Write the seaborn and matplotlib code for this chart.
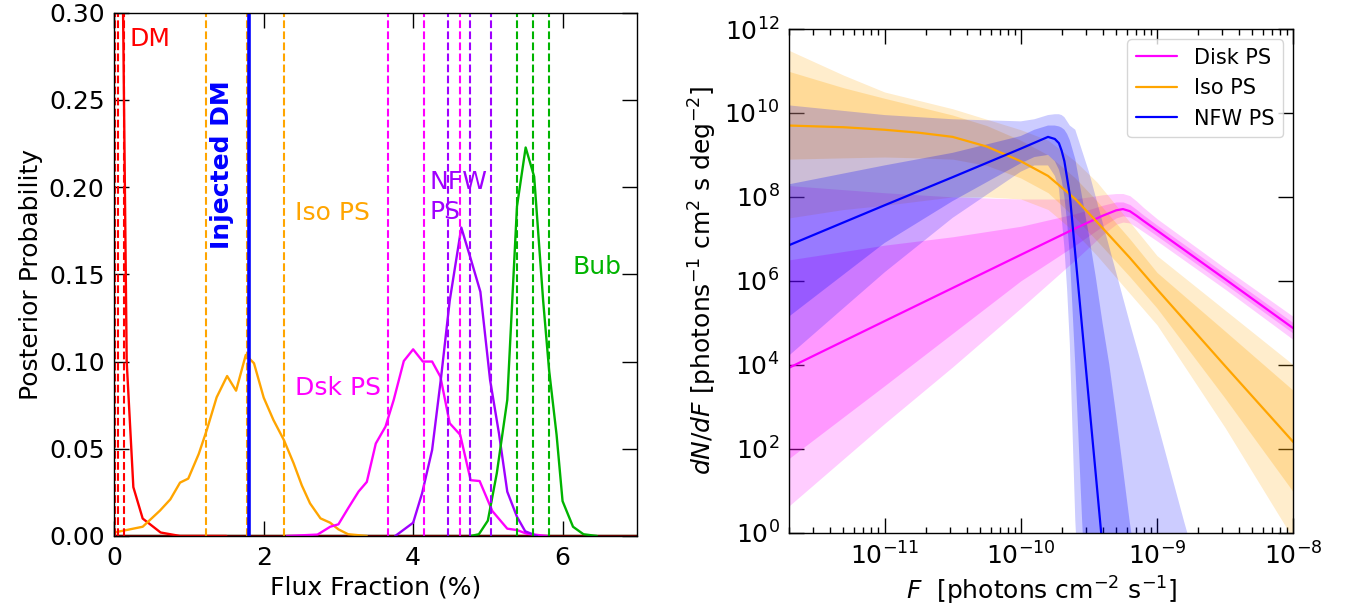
import numpy as np
import pandas as pd
import seaborn as sns
import matplotlib
matplotlib.use("Agg")
import matplotlib.pyplot as plt
from matplotlib.ticker import FixedLocator, NullLocator, LogLocator, FormatStrFormatter

sns.set_style("ticks")
plt.rcParams['font.family'] = ['DejaVu Sans']
plt.rcParams['mathtext.fontset'] = 'dejavusans'
for k in ['text.color', 'axes.labelcolor', 'xtick.color', 'ytick.color', 'axes.edgecolor']:
    plt.rcParams[k] = 'black'

# ---------------- Left panel data: posteriors of flux fraction (%) ----------------
dm_x = [0.04, 0.166, 0.255, 0.38, 0.62, 0.88, 1.5]
dm_y = [0.62, 0.100, 0.028, 0.010, 0.002, 0.0, 0.0]

iso_x = [0.0, 0.38, 0.61, 0.75, 0.88, 0.99, 1.13, 1.24, 1.37, 1.51, 1.63, 1.76, 1.87,
         2.0, 2.13, 2.27, 2.4, 2.51, 2.62, 2.76, 2.89, 3.0, 3.13, 3.38]
iso_y = [0.002, 0.0053, 0.0145, 0.021, 0.0306, 0.0329, 0.047, 0.061, 0.0795, 0.0917,
         0.0833, 0.1038, 0.099, 0.0793, 0.0665, 0.055, 0.0417, 0.029, 0.0187, 0.0101,
         0.0076, 0.0038, 0.001, 0.0]

dsk_x = [2.31, 2.72, 2.89, 3.0, 3.13, 3.27, 3.38, 3.5, 3.63, 3.74, 3.875, 4.0, 4.13,
         4.254, 4.365, 4.49, 4.63, 4.77, 4.89, 5.06, 5.26, 5.39, 5.52, 5.79]
dsk_y = [0.0, 0.0008, 0.0053, 0.0067, 0.0159, 0.0255, 0.031, 0.053, 0.0627, 0.078,
         0.1003, 0.107, 0.100, 0.100, 0.0913, 0.0646, 0.058, 0.032, 0.0315, 0.0143,
         0.0042, 0.0034, 0.0013, 0.0]

nfw_x = [3.76, 4.0, 4.12, 4.254, 4.375, 4.49, 4.645, 4.77, 4.9, 5.03, 5.15, 5.26,
         5.39, 5.5, 5.66]
nfw_y = [0.0, 0.0076, 0.0245, 0.0493, 0.0913, 0.135, 0.1768, 0.159, 0.14, 0.0894,
         0.0585, 0.0254, 0.011, 0.0027, 0.0]

bub_x = [4.77, 4.88, 5.0, 5.12, 5.26, 5.39, 5.506, 5.62, 5.74, 5.82, 5.92, 6.0, 6.14,
         6.28, 6.46]
bub_y = [0.0, 0.001, 0.0088, 0.036, 0.078, 0.189, 0.2227, 0.206, 0.135, 0.095, 0.058,
         0.020, 0.0053, 0.001, 0.0]

flat_x = [0.0, 7.0]
flat_y = [0.0, 0.0]

dm_q = [0.01, 0.05, 0.13]
iso_q = [1.23, 1.77, 2.27]
dsk_q = [3.67, 4.14, 4.63]
nfw_q = [4.47, 4.755, 5.045]
bub_q = [5.39, 5.60, 5.82]
injected_dm = 1.806

# ---------------- Right panel data: source-count functions (log10 values) ----------------
disk_logF = [-11.7, -11.0, -10.5, -10.0, -9.6, -9.4, -9.3, -9.25, -9.2, -9.15, -9.1, -9.0,
             -8.5, -8.0]
disk_med = [3.93, 5.04, 5.83, 6.62, 7.25, 7.55, 7.68, 7.71, 7.66, 7.55, 7.43, 7.2, 6.04, 4.87]
disk_lo95 = [0.64, 2.6, 3.95, 5.35, 6.5, 7.1, 7.35, 7.4, 7.38, 7.28, 7.17, 6.95, 5.8, 4.6]
disk_hi95 = [8.27, 8.1, 8.0, 7.95, 7.95, 8.05, 8.08, 8.08, 8.03, 7.9, 7.75, 7.48, 6.3, 5.15]
disk_lo68 = [1.77, 3.5, 4.75, 6.0, 6.85, 7.3, 7.5, 7.55, 7.52, 7.42, 7.3, 7.07, 5.92, 4.75]
disk_hi68 = [6.5, 6.85, 7.05, 7.3, 7.6, 7.8, 7.88, 7.88, 7.82, 7.7, 7.57, 7.33, 6.17, 5.0]

iso_logF = [-11.7, -11.3, -11.0, -10.75, -10.5, -10.25, -10.0, -9.8, -9.6, -9.44, -9.2,
            -9.0, -8.5, -8.0]
iso_med = [9.70, 9.66, 9.60, 9.53, 9.43, 9.2, 8.85, 8.5, 7.95, 7.4, 6.55, 5.8, 3.97, 2.16]
iso_hi95 = [11.49, 10.9, 10.5, 10.3, 10.1, 9.85, 9.6, 9.35, 8.85, 8.35, 7.4, 6.6, 5.3, 4.0]
iso_hi68 = [10.99, 10.6, 10.35, 10.15, 9.95, 9.7, 9.35, 9.0, 8.45, 7.9, 7.0, 6.2, 4.8, 3.39]
iso_lo68 = [8.9, 8.93, 8.95, 8.93, 8.9, 8.75, 8.45, 8.1, 7.5, 6.95, 6.1, 5.35, 3.2, 0.97]
iso_lo95 = [7.5, 7.7, 7.8, 7.9, 8.0, 8.0, 7.95, 7.7, 7.15, 6.6, 5.7, 4.95, 2.5, -0.15]

nfw_logF = [-11.7, -11.0, -10.5, -10.0, -9.9, -9.8, -9.75, -9.72, -9.7, -9.68, -9.66,
            -9.64, -9.6, -9.55, -9.5, -9.45, -9.4, -9.35, -9.3, -9.2, -9.1, -9.0, -8.9,
            -8.8, -8.7]
nfw_med = [6.85, 7.80, 8.47, 9.15, 9.29, 9.43, 9.38, 9.28, 9.1, 8.85, 8.45, 8.04, 6.64,
           4.89, 3.14, 1.4, -0.35, -2.1, -3.9, -7.0, -9.0, -9.0, -9.0, -9.0, -9.0]
nfw_lo68 = [5.15, 6.9, 7.9, 8.8, 8.95, 9.0, 8.85, 8.65, 8.4, 8.0, 7.4, 6.6, 4.0, 0.3,
            -3.0, -6.0, -9.0, -9.0, -9.0, -9.0, -9.0, -9.0, -9.0, -9.0, -9.0]
nfw_hi68 = [8.3, 8.75, 9.05, 9.45, 9.6, 9.7, 9.7, 9.68, 9.65, 9.6, 9.5, 9.35, 8.9, 8.0,
            7.1, 6.1, 5.0, 4.0, 2.8, 0.25, -2.0, -4.0, -6.0, -8.0, -9.0]
nfw_lo95 = [4.22, 6.2, 7.5, 8.6, 8.75, 8.75, 8.5, 8.2, 7.5, 6.8, 5.8, 4.5, 0.3, -3.0,
            -6.0, -9.0, -9.0, -9.0, -9.0, -9.0, -9.0, -9.0, -9.0, -9.0, -9.0]
nfw_hi95 = [10.18, 9.95, 9.85, 9.8, 9.85, 9.95, 9.97, 9.97, 9.95, 9.9, 9.8, 9.7, 9.6,
            9.1, 8.6, 8.0, 7.4, 6.8, 6.2, 5.0, 3.85, 2.65, 1.45, 0.25, -0.9]

components = [
    ("Disk PS", "magenta", disk_logF, disk_med, disk_lo95, disk_hi95, disk_lo68, disk_hi68),
    ("Iso PS", "orange", iso_logF, iso_med, iso_lo95, iso_hi95, iso_lo68, iso_hi68),
    ("NFW PS", "blue", nfw_logF, nfw_med, nfw_lo95, nfw_hi95, nfw_lo68, nfw_hi68),
]

FS = 18
col_red = "#ff0000"
col_orange = "#ffa500"
col_mag = "#ff00ff"
col_purple = "#a000ff"
col_green = "#00b400"

fig = plt.figure(figsize=(13.51, 6.12), dpi=100)
axL = fig.add_axes([0.0846, 0.1242, 0.3871, 0.8551])
axR = fig.add_axes([0.5842, 0.1296, 0.3731, 0.8230])

# ---------------- Left panel ----------------
sns.lineplot(x=flat_x, y=flat_y, ax=axL, color="#006400", lw=1.7, estimator=None, sort=False)
sns.lineplot(x=flat_x, y=flat_y, ax=axL, color="#800000", lw=1.7, estimator=None, sort=False)
for xs, ys, c in [(dm_x, dm_y, col_red), (iso_x, iso_y, col_orange), (dsk_x, dsk_y, col_mag),
                  (nfw_x, nfw_y, col_purple), (bub_x, bub_y, col_green)]:
    sns.lineplot(x=xs, y=ys, ax=axL, color=c, lw=1.7, estimator=None, sort=False)

for qs, c in [(dm_q, col_red), (iso_q, col_orange), (dsk_q, col_mag), (nfw_q, col_purple),
              (bub_q, col_green)]:
    for q in qs:
        axL.axvline(q, color=c, ls="--", lw=1.5)
axL.axvline(injected_dm, color="blue", lw=2.6)

axL.text(0.2, 0.285, "DM", color=col_red, fontsize=FS, va="center", ha="left")
axL.text(1.44, 0.2127, "Injected DM", color="blue", fontsize=FS, fontweight="bold",
         rotation=90, va="center", ha="center")
axL.text(2.42, 0.185, "Iso PS", color=col_orange, fontsize=FS, va="center", ha="left")
axL.text(2.42, 0.0847, "Dsk PS", color=col_mag, fontsize=FS, va="center", ha="left")
axL.text(4.22, 0.1945, "NFW\nPS", color=col_purple, fontsize=FS, va="center", ha="left",
         linespacing=1.3)
axL.text(6.13, 0.1544, "Bub", color=col_green, fontsize=FS, va="center", ha="left")

axL.set_xlim(0, 7)
axL.set_ylim(0, 0.30)
axL.xaxis.set_major_locator(FixedLocator([0, 2, 4, 6]))
axL.yaxis.set_major_locator(FixedLocator([0.0, 0.05, 0.10, 0.15, 0.20, 0.25, 0.30]))
axL.yaxis.set_major_formatter(FormatStrFormatter("%.2f"))
axL.set_xlabel("Flux Fraction (%)", fontsize=FS)
axL.set_ylabel("Posterior Probability", fontsize=FS)

# ---------------- Right panel ----------------
for name, c, lf, med, lo95, hi95, lo68, hi68 in components:
    F = 10.0 ** np.asarray(lf)
    axR.fill_between(F, 10.0 ** np.asarray(lo95), 10.0 ** np.asarray(hi95),
                     color=c, alpha=0.2, lw=0)
    axR.fill_between(F, 10.0 ** np.asarray(lo68), 10.0 ** np.asarray(hi68),
                     color=c, alpha=0.25, lw=0)
    sns.lineplot(x=F, y=10.0 ** np.asarray(med), ax=axR, color=c, lw=1.6,
                 estimator=None, sort=False, label=name)

axR.set_xscale("log")
axR.set_yscale("log")
axR.set_xlim(2e-12, 1e-8)
axR.set_ylim(1, 1e12)
axR.yaxis.set_major_locator(FixedLocator([10.0 ** k for k in range(0, 13, 2)]))
axR.yaxis.set_minor_locator(NullLocator())
axR.xaxis.set_major_locator(LogLocator(base=10, numticks=10))
axR.xaxis.set_minor_locator(LogLocator(base=10, subs=np.arange(2, 10), numticks=20))
axR.set_xlabel(r"$F$  [photons cm$^{-2}$ s$^{-1}$]", fontsize=FS)
axR.set_ylabel(r"$dN/dF$ [photons$^{-1}$ cm$^{2}$ s deg$^{-2}$]", fontsize=FS)
leg = axR.legend(loc="upper right", fontsize=15)
for t in leg.get_texts():
    t.set_color("black")

for ax in (axL, axR):
    ax.tick_params(which="major", direction="in", length=11, width=1.0, top=True,
                   right=True, labelsize=FS, pad=7, colors="black")
    ax.tick_params(which="minor", direction="in", length=4.5, width=1.0, top=True,
                   right=True, colors="black")
    for s in ax.spines.values():
        s.set_linewidth(1.0)
        s.set_color("black")

fig.savefig("out.png", dpi=100)
